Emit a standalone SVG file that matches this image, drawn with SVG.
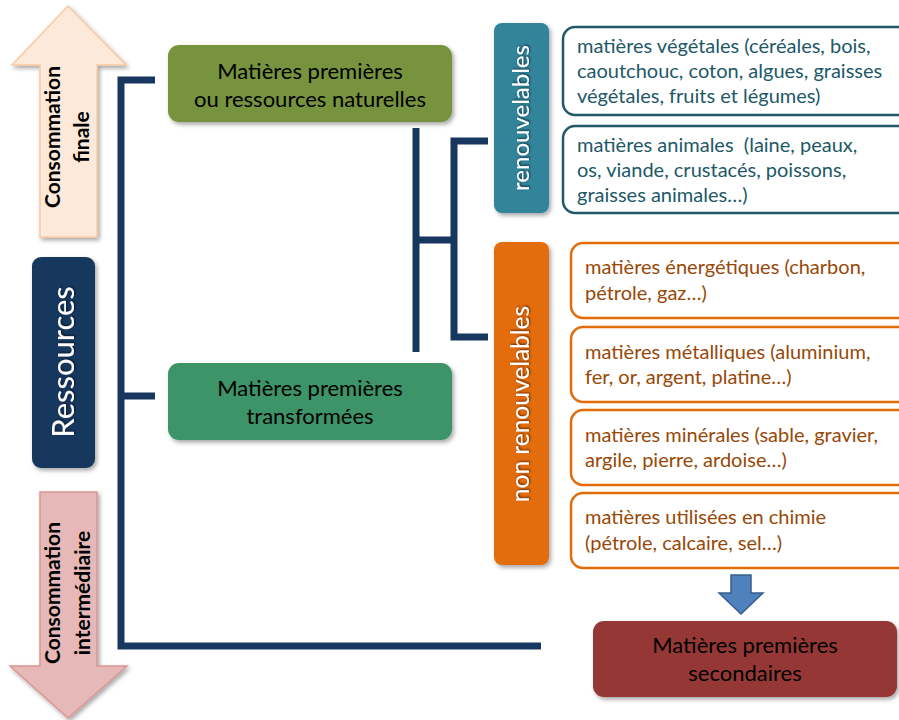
<svg xmlns="http://www.w3.org/2000/svg" width="899" height="720" viewBox="0 0 899 720">
<defs>
<filter id="sh" x="-10%" y="-10%" width="130%" height="130%">
<feDropShadow dx="2" dy="2.5" stdDeviation="2" flood-color="#000" flood-opacity="0.35"/>
</filter>
<filter id="tg" x="-10%" y="-20%" width="120%" height="140%">
<feDropShadow dx="1" dy="1" stdDeviation="1" flood-color="#000" flood-opacity="0.6"/>
</filter>
<style>
text{font-family:Lato,"Liberation Sans",sans-serif}
.line{stroke:#17375E;stroke-width:7;fill:none;stroke-linecap:butt;stroke-linejoin:miter}
.main{font-size:22px;fill:#000;text-anchor:middle}
.side{font-size:21px;font-weight:bold;fill:#000;text-anchor:middle}
.vert{fill:#fff;text-anchor:middle;filter:url(#tg)}
.tb{fill:#fff;stroke:#215968;stroke-width:2.5}
.tt{font-size:20px;fill:#215868;white-space:pre}
.ob{fill:#fff;stroke:#E36C09;stroke-width:2.5}
.ot{font-size:20px;fill:#984807}
</style>
</defs>
<g id="connectors">
<path class="line" d="M155,80 H121 V646 H541"/>
<path class="line" d="M121,396 H155"/>
<path class="line" d="M416,128 V352"/>
<path class="line" d="M416,240 H454"/>
<path class="line" d="M488,141 H454 V337 H488"/>
</g>
<g id="arrow-consommation-finale">
<path d="M68,6 L126,65 L97,65 L97,237 L40,237 L40,65 L12,65 Z" fill="#FDE9D9" stroke="#FAC8A0" stroke-width="1.5" filter="url(#sh)"/>
<g transform="translate(68,137) rotate(-90)">
<text class="side" y="-8">Consommation</text>
<text class="side" y="21">finale</text>
</g>
</g>
<g id="ressources">
<rect x="32" y="257" width="63" height="211" rx="9" fill="#17375E" filter="url(#sh)"/>
<text class="vert" transform="translate(63,362) rotate(-90)" y="11" font-size="31">Ressources</text>
</g>
<g id="arrow-consommation-intermediaire">
<path d="M40,492 L97,492 L97,666 L127,666 L68,718 L10,666 L40,666 Z" fill="#E6B9B8" stroke="#D99694" stroke-width="1.5" filter="url(#sh)"/>
<g transform="translate(68,593) rotate(-90)">
<text class="side" y="-8">Consommation</text>
<text class="side" y="22">intermédiaire</text>
</g>
</g>
<g id="matieres-naturelles">
<rect x="168" y="45" width="284" height="77" rx="11" fill="#77933C" filter="url(#sh)"/>
<text class="main" x="310" y="79">Matières premières</text>
<text class="main" x="310" y="107">ou ressources naturelles</text>
</g>
<g id="matieres-transformees">
<rect x="168" y="363" width="284" height="77" rx="11" fill="#3E9468" filter="url(#sh)"/>
<text class="main" x="310" y="396">Matières premières</text>
<text class="main" x="310" y="424">transformées</text>
</g>
<g id="renouvelables">
<rect x="494" y="23" width="55" height="190" rx="8" fill="#31849B" filter="url(#sh)"/>
<text class="vert" transform="translate(521,118) rotate(-90)" y="8" font-size="24">renouvelables</text>
</g>
<g id="non-renouvelables">
<rect x="494" y="242" width="55" height="323" rx="8" fill="#E36C09" filter="url(#sh)"/>
<text class="vert" transform="translate(521,404) rotate(-90)" y="8" font-size="24.5">non renouvelables</text>
</g>
<g id="vegetales">
<rect class="tb" x="563" y="27" width="350" height="88" rx="12"/>
<text class="tt" x="577" y="53">matières végétales (céréales, bois,</text>
<text class="tt" x="577" y="78">caoutchouc, coton, algues, graisses</text>
<text class="tt" x="577" y="103">végétales, fruits et légumes)</text>
</g>
<g id="animales">
<rect class="tb" x="563" y="126" width="350" height="87" rx="12"/>
<text class="tt" x="577" y="152" xml:space="preserve">matières animales  (laine, peaux,</text>
<text class="tt" x="577" y="177">os, viande, crustacés, poissons,</text>
<text class="tt" x="577" y="202">graisses animales…)</text>
</g>
<g id="energetiques">
<rect class="ob" x="571" y="243" width="340" height="75" rx="12"/>
<text class="ot" x="585" y="274">matières énergétiques (charbon,</text>
<text class="ot" x="585" y="300">pétrole, gaz…)</text>
</g>
<g id="metalliques">
<rect class="ob" x="571" y="327" width="340" height="75" rx="12"/>
<text class="ot" x="585" y="359">matières métalliques (aluminium,</text>
<text class="ot" x="585" y="384">fer, or, argent, platine…)</text>
</g>
<g id="minerales">
<rect class="ob" x="571" y="410" width="340" height="75" rx="12"/>
<text class="ot" x="585" y="442">matières minérales (sable, gravier,</text>
<text class="ot" x="585" y="467">argile, pierre, ardoise…)</text>
</g>
<g id="chimie">
<rect class="ob" x="571" y="493" width="340" height="75" rx="12"/>
<text class="ot" x="585" y="524">matières utilisées en chimie</text>
<text class="ot" x="585" y="550">(pétrole, calcaire, sel…)</text>
</g>
<g id="fleche-bleue">
<path d="M731,575 L751,575 L751,593 L763,593 L741,614 L719,593 L731,593 Z" fill="#4F81BD" stroke="#385D8A" stroke-width="1.5"/>
</g>
<g id="secondaires">
<rect x="593" y="621" width="304" height="76" rx="11" fill="#953735" filter="url(#sh)"/>
<text class="main" x="745" y="653">Matières premières</text>
<text class="main" x="745" y="681">secondaires</text>
</g>
</svg>
